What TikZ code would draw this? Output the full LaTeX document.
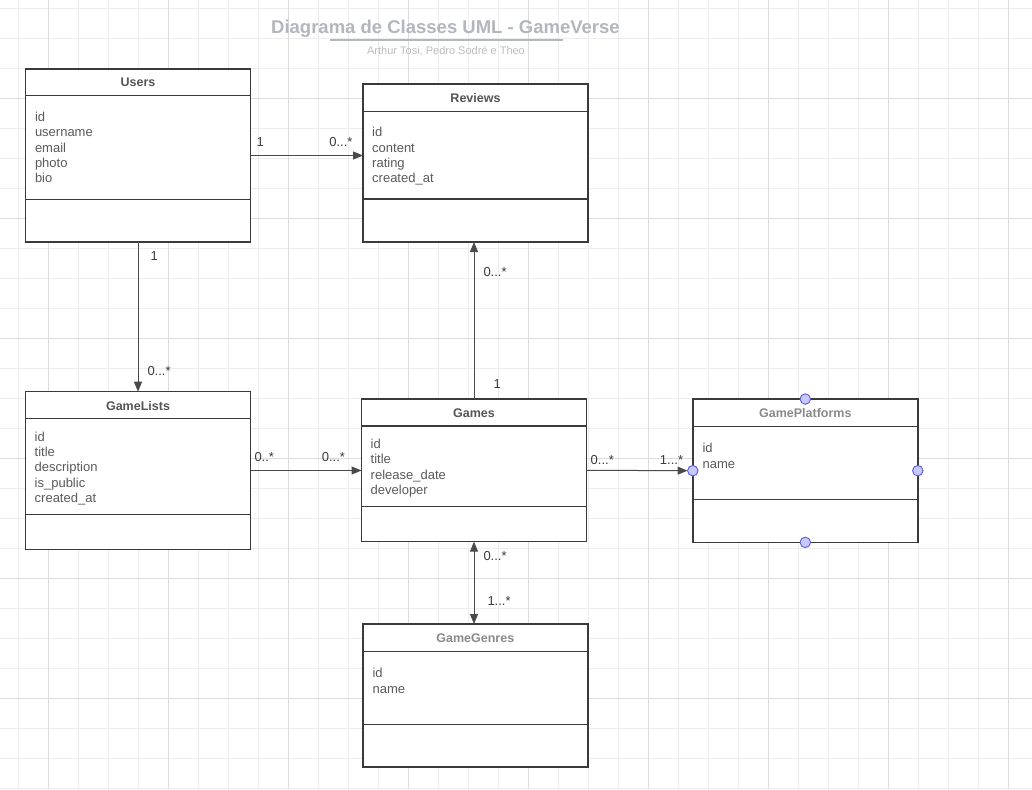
\documentclass[tikz,border=0pt]{standalone}
\usepackage{fontspec}
\setmainfont{Liberation Sans}
\usetikzlibrary{arrows.meta}

\definecolor{gridminor}{HTML}{EDEDED}
\definecolor{gridmajor}{HTML}{DCDCDC}
\definecolor{boxline}{HTML}{3A3A3A}
\definecolor{headtext}{HTML}{555555}
\definecolor{headlight}{HTML}{8A8A8A}
\definecolor{attrtext}{HTML}{5A5A5A}
\definecolor{linecol}{HTML}{4A4A4A}
\definecolor{multtext}{HTML}{3A3A3A}
\definecolor{titlecol}{HTML}{B2B6BE}
\definecolor{subcol}{HTML}{BDBDBD}
\definecolor{portfill}{HTML}{C8C8FF}
\definecolor{portline}{HTML}{5B5BD6}

\begin{document}
\begin{tikzpicture}[
    x=1pt, y=-1pt,
    cls/.style={draw=boxline, line width=1.4pt, fill=white, minimum width=225pt,
                inner sep=0pt, outer sep=0pt},
    head/.style={font=\fontsize{12.5}{15}\selectfont\bfseries, text=headtext},
    sep/.style={draw=boxline, line width=1.2pt},
    attr/.style={anchor=north west, align=left, inner sep=0pt,
                 font=\fontsize{13}{15.3}\selectfont, text=attrtext},
    assoc/.style={-{Triangle[length=10pt,width=8pt]}, draw=linecol, line width=1pt},
    mult/.style={inner sep=0pt, font=\fontsize{13}{15}\selectfont, text=multtext},
    port/.style={circle, draw=portline, fill=portfill, line width=0.9pt,
                 minimum size=10.5pt, inner sep=0pt, outer sep=0pt}
]
% canvas and grid
\fill[white] (0,0) rectangle (1032,789);
\useasboundingbox (0,0) rectangle (1032,789);
\foreach \x in {18,48,...,1008} \draw[gridminor, line width=0.8pt] (\x,0) -- (\x,789);
\foreach \y in {8,38,...,788} \draw[gridminor, line width=0.8pt] (0,\y) -- (1032,\y);
\foreach \x in {48,168,...,1008} \draw[gridmajor, line width=0.9pt] (\x,0) -- (\x,789);
\foreach \y in {98,218,...,698} \draw[gridmajor, line width=0.9pt] (0,\y) -- (1032,\y);

% title
\node[font=\fontsize{18.5}{22}\selectfont\bfseries, text=titlecol, anchor=base] (title) at (445.5,33.3) {Diagrama de Classes UML - GameVerse};
\draw[titlecol, line width=1.4pt] (330,40) -- (563,40);
\node[font=\fontsize{11}{13}\selectfont, text=subcol, anchor=base] (authors) at (446,55) {Arthur Tosi, Pedro Sodré e Theo};

% Users
\node[cls, minimum height=173pt] (users) at (138,155.5) {};
\node[head] (usersT) at ([yshift=-13.5pt]users.north) {Users};
\draw[sep] ([yshift=-26.7pt]users.north west) -- ([yshift=-26.7pt]users.north east);
\draw[sep] ([yshift=42.7pt]users.south west) -- ([yshift=42.7pt]users.south east);
\node[attr] (usersA) at ([xshift=9.3pt,yshift=-43pt]users.north west) {id\\username\\email\\photo\\bio};

% Reviews
\node[cls, minimum height=158pt] (reviews) at (475.5,163) {};
\node[head] (reviewsT) at ([yshift=-14pt]reviews.north) {Reviews};
\draw[sep] ([yshift=-27.3pt]reviews.north west) -- ([yshift=-27.3pt]reviews.north east);
\draw[sep] ([yshift=43pt]reviews.south west) -- ([yshift=43pt]reviews.south east);
\node[attr] (reviewsA) at ([xshift=9pt,yshift=-43.3pt]reviews.north west) {id\\content\\rating\\created\_at};

% GameLists
\node[cls, minimum height=157.6pt] (lists) at (138,470.5) {};
\node[head] (listsT) at ([yshift=-14pt]lists.north) {GameLists};
\draw[sep] ([yshift=-27pt]lists.north west) -- ([yshift=-27pt]lists.north east);
\draw[sep] ([yshift=34.6pt]lists.south west) -- ([yshift=34.6pt]lists.south east);
\node[attr] (listsA) at ([xshift=9pt,yshift=-40pt]lists.north west) {id\\title\\description\\is\_public\\created\_at};

% Games
\node[cls, minimum height=142.7pt] (games) at (474,470.3) {};
\node[head] (gamesT) at ([yshift=-14pt]games.north) {Games};
\draw[sep] ([yshift=-27pt]games.north west) -- ([yshift=-27pt]games.north east);
\draw[sep] ([yshift=35pt]games.south west) -- ([yshift=35pt]games.south east);
\node[attr] (gamesA) at ([xshift=9pt,yshift=-40pt]games.north west) {id\\title\\release\_date\\developer};

% GamePlatforms
\node[cls, minimum height=143.3pt] (plat) at (805.3,470.7) {};
\node[head, text=headlight] (platT) at ([yshift=-14pt]plat.north) {GamePlatforms};
\draw[sep] ([yshift=-27.7pt]plat.north west) -- ([yshift=-27.7pt]plat.north east);
\draw[sep] ([yshift=43pt]plat.south west) -- ([yshift=43pt]plat.south east);
\node[attr] (platA) at ([xshift=9.6pt,yshift=-44.3pt]plat.north west) {id\\name};

% GameGenres
\node[cls, minimum height=143pt] (genres) at (475.3,695.5) {};
\node[head, text=headlight] (genresT) at ([yshift=-14pt]genres.north) {GameGenres};
\draw[sep] ([yshift=-27.7pt]genres.north west) -- ([yshift=-27.7pt]genres.north east);
\draw[sep] ([yshift=42.7pt]genres.south west) -- ([yshift=42.7pt]genres.south east);
\node[attr] (genresA) at ([xshift=9.6pt,yshift=-44.3pt]genres.north west) {id\\name};

% connection points
\node[port] (pT) at (plat.north) {};
\node[port] (pB) at (plat.south) {};
\node[port] (pL) at (plat.west) {};
\node[port] (pR) at (plat.east) {};

% associations
\draw[assoc] (users.east) --
    node[mult, at start, anchor=south west, xshift=5.5pt, yshift=8.6pt] {1}
    node[mult, at end, anchor=south east, xshift=-10pt, yshift=8.6pt] {0...*}
    (users.east -| reviews.west);
\draw[assoc] (users.south) --
    node[mult, at start, anchor=north west, xshift=12pt, yshift=-9.5pt] {1}
    node[mult, at end, anchor=south west, xshift=9pt, yshift=16pt] {0...*}
    (lists.north);
\draw[assoc] (games.north) --
    node[mult, at start, anchor=south west, xshift=19pt, yshift=10.3pt] {1}
    node[mult, at end, anchor=north west, xshift=9pt, yshift=-25pt] {0...*}
    (games.north |- reviews.south);
\draw[assoc] (lists.east) --
    node[mult, at start, anchor=south west, xshift=3.5pt, yshift=8.6pt] {0..*}
    node[mult, at end, anchor=south east, xshift=-16pt, yshift=8.6pt] {0...*}
    (lists.east -| games.west);
\draw[assoc] (games.east) --
    node[mult, at start, anchor=south west, xshift=3.7pt, yshift=5.3pt] {0...*}
    node[mult, at end, anchor=south east, xshift=-4pt, yshift=5.3pt] {1...*}
    (pL);
\draw[assoc, {Triangle[length=10pt,width=8pt]}-{Triangle[length=10pt,width=8pt]}] (games.south) --
    node[mult, at start, anchor=north west, xshift=9pt, yshift=-9.6pt] {0...*}
    node[mult, at end, anchor=south west, xshift=13pt, yshift=18.3pt] {1...*}
    (games.south |- genres.north);
\end{tikzpicture}
\end{document}
